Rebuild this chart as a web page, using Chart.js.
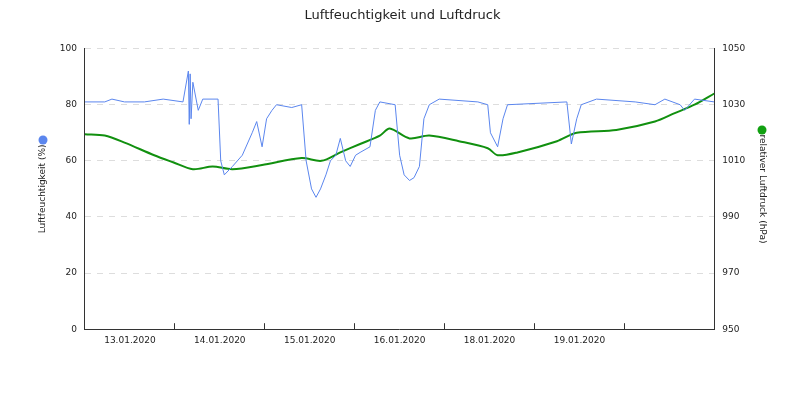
<!DOCTYPE html>
<html><head><meta charset="utf-8">
<script src="https://cdn.jsdelivr.net/npm/chart.js@4"></script>
<style>body{margin:0;background:#fff}#w{width:800px;height:400px}</style>
</head><body><div id="w"><canvas id="c"></canvas></div>
<script>
const dayLabels = ['13.01.2020','14.01.2020','15.01.2020','16.01.2020','18.01.2020','19.01.2020',''];
const humT = [0,.22,.3,.44,.66,.87,1.09,1.15,1.16,1.17,1.18,1.2,1.26,1.31,1.48,1.51,1.55,1.64,1.75,1.86,1.91,1.97,2.02,2.08,2.13,2.3,2.41,2.46,2.52,2.57,2.62,2.68,2.73,2.79,2.84,2.9,2.95,3.01,3.06,3.17,3.23,3.28,3.45,3.5,3.55,3.61,3.66,3.72,3.77,3.83,3.94,4.37,4.48,4.51,4.59,4.65,4.7,5.36,5.41,5.47,5.52,5.69,6.12,6.34,6.45,6.62,6.67,6.78,7];
const humV = [81,81,82,81,81,82,81,92,73,91,75,88,78,82,82,60,55,58,62,70,74,65,75,78,80,79,80,60,50,47,50,55,60,62,68,60,58,62,63,65,78,81,80,62,55,53,54,58,75,80,82,81,80,70,65,75,80,81,66,75,80,82,81,80,82,80,78,82,81];
const presT = [0,.22,.44,.77,.98,1.2,1.42,1.64,1.97,2.41,2.63,2.84,3.06,3.28,3.39,3.61,3.83,4.16,4.48,4.59,4.81,5.25,5.47,5.91,6.34,6.56,6.78,7];
const presV = [1019.5,1019,1016.5,1012,1009.5,1007,1008,1007,1008.5,1011,1010,1013,1016,1019,1021.5,1018,1019,1017,1014.5,1012,1013,1017,1020,1021,1024,1027,1030,1034];
const pts=(t,v)=>t.map((x,i)=>({x,y:v[i]}));
const dots={id:'dots',afterDraw(c){const g=c.ctx;g.save();
g.fillStyle='#5b86ee';g.beginPath();g.arc(43,140,4.5,0,7);g.fill();
g.fillStyle='#11a011';g.beginPath();g.arc(762,130,4.5,0,7);g.fill();g.restore();}};
const F={family:'DejaVu Sans',size:9};
new Chart(document.getElementById('c'),{
 type:'line',
 data:{labels:dayLabels,datasets:[
  {label:'Luftfeuchtigkeit',data:pts(humT,humV),xAxisID:'x',yAxisID:'y',borderColor:'#5b86ee',borderWidth:1,pointRadius:0,tension:0},
  {label:'Luftdruck',data:pts(presT,presV),xAxisID:'x',yAxisID:'y1',borderColor:'#11900f',borderWidth:2,pointRadius:0,tension:0.3}
 ]},
 plugins:[dots],
 options:{responsive:true,maintainAspectRatio:false,animation:false,
  layout:{padding:{left:33,right:28,top:0,bottom:44}},
  plugins:{legend:{display:false},tooltip:{enabled:false},
   title:{display:true,text:'Luftfeuchtigkeit und Luftdruck',color:'#222',font:{family:'DejaVu Sans',size:13,weight:'normal'},padding:{top:8,bottom:25}}},
  scales:{
   x:{type:'linear',min:0,max:7,
      ticks:{display:false,stepSize:1},
      grid:{drawOnChartArea:false,tickLength:-6,color:'#333'},border:{color:'#333'}},
   xl:{type:'category',labels:dayLabels,offset:true,position:'bottom',
      ticks:{color:'#222',font:F,maxRotation:0,autoSkip:false,padding:4},
      grid:{display:false},border:{display:false}},
   y:{min:0,max:100,position:'left',ticks:{stepSize:20,color:'#222',font:F,padding:8},
      grid:{color:'#dddddd',drawTicks:false},border:{dash:[6,6],color:'#333'},
      title:{display:true,text:'Luftfeuchtigkeit (%)',color:'#222',font:F}},
   y1:{min:950,max:1050,position:'right',ticks:{stepSize:20,color:'#222',font:F,padding:8,callback:v=>String(v)},
      grid:{drawOnChartArea:false,drawTicks:false},border:{color:'#333'},
      title:{display:true,text:'relativer Luftdruck (hPa)',color:'#222',font:F}}
  }}
});
</script></body></html>
